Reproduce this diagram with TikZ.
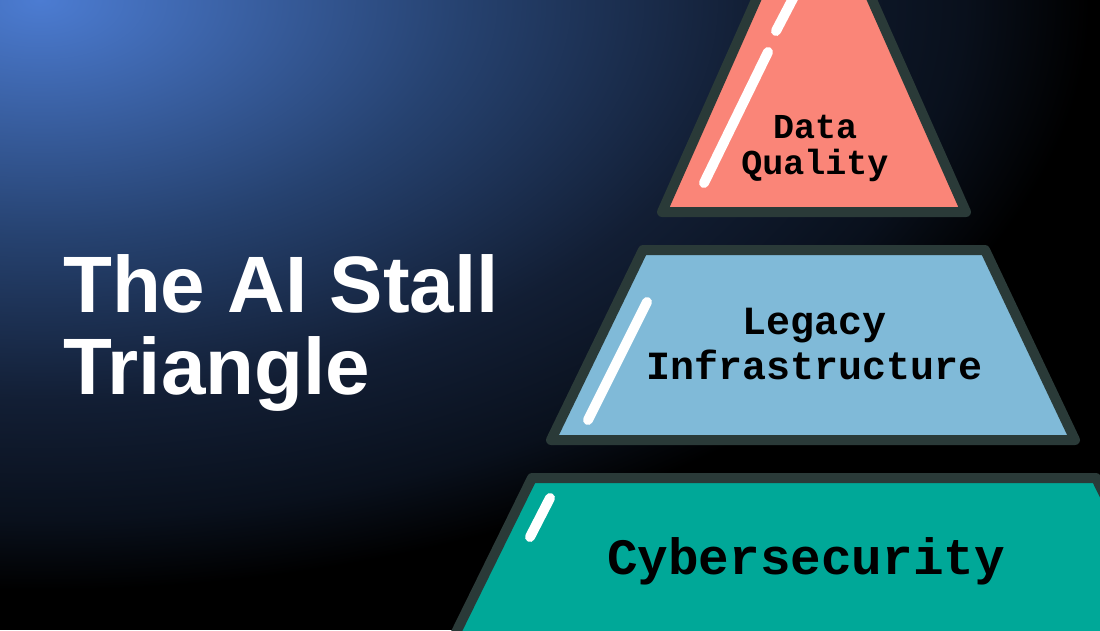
\documentclass[tikz,border=0pt]{standalone}
\usepackage{fontspec}
\newfontfamily\headfont{Liberation Sans}
\newfontfamily\pyrfont{Liberation Mono}
\definecolor{glowblue}{RGB}{76, 124, 210}
\definecolor{glowmid}{RGB}{38, 66, 112}
\definecolor{glowdeep}{RGB}{18, 30, 52}
\definecolor{glowdark}{RGB}{9, 16, 28}
\definecolor{pyrred}{RGB}{250, 133, 120}
\definecolor{pyrblue}{RGB}{128, 186, 216}
\definecolor{pyrteal}{RGB}{0, 168, 152}
\definecolor{pyrline}{RGB}{42, 58, 56}
\pgfdeclareradialshading{bgglow}{\pgfpoint{0bp}{0bp}}{color(0bp)=(glowblue); color(10bp)=(glowmid); color(17bp)=(glowdeep); color(22bp)=(glowdark); color(25bp)=(black); color(50bp)=(black)}

\begin{document}
\begin{tikzpicture}[x=1pt, y=-1pt,
    layer/.style={draw=pyrline, line width=10pt, line join=round},
    shine/.style={white, line width=10pt, line cap=round},
    tag/.style 2 args={font=\pyrfont\bfseries\fontsize{#1}{#2}\selectfont, align=center, inner sep=0pt, text=black}]
  \useasboundingbox (0,0) rectangle (1100,630);
  \clip (0,0) rectangle (1100,630);
  % Background
  \fill[black] (0,0) rectangle (1100,630);
  \shade[shading=bgglow] (40,0) ellipse (1050pt and 590pt);
  % Title
  \node[font=\headfont\bfseries\fontsize{80}{82}\selectfont, text=white, align=left, anchor=west, inner sep=0pt] (title) at (63,333) {The AI Stall\\Triangle};
  % Top layer
  \filldraw[layer, fill=pyrred] (814,-131) -- (966,212) -- (662,212) -- cycle;
  \draw[shine] (800,-15) -- (776,31);
  \draw[shine] (768,52) -- (704,183);
  \node[tag={35}{36}] (dataq) at (815,148) {Data\\Quality};
  % Middle layer
  \filldraw[layer, fill=pyrblue] (643,250) -- (985,250) -- (1075,440) -- (551,440) -- cycle;
  \draw[shine] (647,302) -- (588,420);
  \node[tag={40}{45}] (legacy) at (815,344) {Legacy\\Infrastructure};
  % Bottom layer
  \filldraw[layer, fill=pyrteal] (532,478) -- (1096,478) -- (1188,665) -- (440,665) -- cycle;
  \draw[shine] (550,498) -- (530,537);
  \node[tag={51}{54}] (cyber) at (806,561) {Cybersecurity};
\end{tikzpicture}
\end{document}
